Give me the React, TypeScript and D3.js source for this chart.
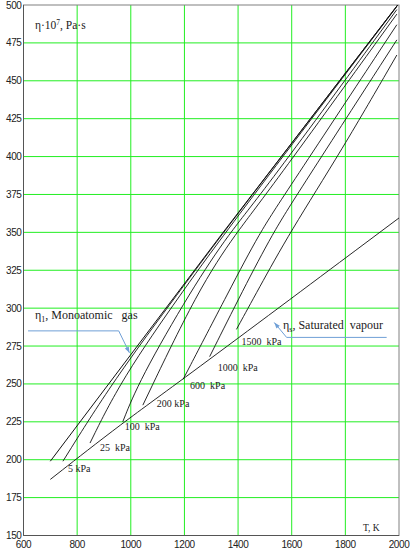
import React from "react";
import * as d3 from "d3";

// Axis ticks
const tempTicks = [600, 800, 1000, 1200, 1400, 1600, 1800, 2000];
const etaTicks = [150, 175, 200, 225, 250, 275, 300, 325, 350, 375, 400, 425, 450, 475, 500];

// Monoatomic gas viscosity (eta_1) and saturated vapour line (eta_s)
const monoT = [700, 1340, 1995];
const monoEta = [199, 349, 500];
const satT = [700, 970, 1195, 2000];
const satEta = [187, 224.5, 253, 359.5];

// Isobars, each starting near the saturation line
const pressureLabels = ["5 kPa", "25  kPa", "100  kPa", "200 kPa", "600  kPa", "1000  kPa", "1500  kPa"];
const isobarT = [
  [747, 936, 1186, 1345, 1995],
  [848, 965, 1195, 1350, 1992],
  [970, 1033, 1226, 1369, 1487, 1992],
  [1045, 1251, 1394, 1506, 1992],
  [1195, 1369, 1481, 1574, 1992],
  [1294, 1419, 1531, 1620, 1992],
  [1394, 1475, 1593, 1786, 1992],
];
const isobarEta = [
  [199, 252.5, 312, 350, 500],
  [211, 253, 311.5, 349.5, 499],
  [225, 252.8, 312.2, 350, 375, 497],
  [236, 312.2, 350, 375, 494],
  [253, 312.2, 350, 375, 487],
  [268, 312.2, 350, 375, 477],
  [286, 312.2, 350, 404, 467],
];

// Pixel offsets of the pressure labels from each isobar's first point
const labelOffsets: [number, number][] = [
  [5, 11],
  [10, 8],
  [2, 8],
  [14, 2],
  [7, 10],
  [8, 14],
  [5, 16],
];

// Leader lines of the two callouts (T, eta)
const monoLeaderT = [617, 955, 995];
const monoLeaderEta = [285, 285, 270.5];
const satLeaderT = [1954, 1581, 1535];
const satLeaderEta = [280.7, 280.7, 290.5];

const W = 410;
const H = 553;

export default function App() {
  const x = d3.scaleLinear().domain([600, 2000]).range([23.5, 399]);
  const y = d3.scaleLinear().domain([150, 500]).range([535.5, 5]);

  const smooth = d3
    .line<[number, number]>()
    .x((d) => x(d[0]))
    .y((d) => y(d[1]))
    .curve(d3.curveBasis);
  const straight = d3
    .line<[number, number]>()
    .x((d) => x(d[0]))
    .y((d) => y(d[1]));

  const zip = (a: number[], b: number[]) => a.map((v, i) => [v, b[i]] as [number, number]);

  const green = "#22ee22";
  const blue = "#6f9fd6";
  const serif = "'Liberation Serif', 'Times New Roman', serif";
  const sans = "'Liberation Sans', Arial, sans-serif";

  const arrowHead = (from: [number, number], to: [number, number]) => {
    const x0 = x(from[0]);
    const y0 = y(from[1]);
    const x1 = x(to[0]);
    const y1 = y(to[1]);
    const ang = Math.atan2(y1 - y0, x1 - x0);
    const len = 6;
    const half = 2.2;
    const bx = x1 - len * Math.cos(ang);
    const by = y1 - len * Math.sin(ang);
    const px = -Math.sin(ang) * half;
    const py = Math.cos(ang) * half;
    return `M${x1},${y1}L${bx + px},${by + py}L${bx - px},${by - py}Z`;
  };

  const monoLeader = zip(monoLeaderT, monoLeaderEta);
  const satLeader = zip(satLeaderT, satLeaderEta);

  return (
    <svg
      width={W}
      height={H}
      viewBox={`0 0 ${W} ${H}`}
      style={{ position: "absolute", left: 0, top: 0, background: "#fff" }}
    >
      <rect x={0} y={0} width={W} height={H} fill="#fff" />
      {/* grid */}
      {tempTicks.slice(1, -1).map((t) => (
        <line key={"vx" + t} x1={x(t)} x2={x(t)} y1={y(500)} y2={y(150)} stroke={green} strokeWidth={1} />
      ))}
      {etaTicks.slice(1, -1).map((e) => (
        <line key={"hy" + e} x1={x(600)} x2={x(2000)} y1={y(e)} y2={y(e)} stroke={green} strokeWidth={1} />
      ))}
      {/* frame */}
      <rect
        x={x(600)}
        y={y(500)}
        width={x(2000) - x(600)}
        height={y(150) - y(500)}
        fill="none"
        stroke="#808080"
        strokeWidth={1}
      />
      <line x1={x(600)} x2={x(600)} y1={y(500)} y2={y(150)} stroke="#555" />
      <line x1={x(600)} x2={x(2000)} y1={y(150)} y2={y(150)} stroke="#555" />

      {/* tick labels */}
      {etaTicks.map((e) => (
        <text
          key={"ty" + e}
          x={x(600) - 2}
          y={y(e) + 3.5}
          textAnchor="end"
          fontFamily={sans}
          fontSize={10}
          letterSpacing={-0.4}
          fill="#222"
        >
          {e}
        </text>
      ))}
      {tempTicks.map((t) => (
        <text
          key={"tx" + t}
          x={x(t)}
          y={y(150) + 12.5}
          textAnchor="middle"
          fontFamily={sans}
          fontSize={10}
          letterSpacing={-0.4}
          fill="#222"
        >
          {t}
        </text>
      ))}

      {/* saturated vapour line */}
      <path d={smooth(zip(satT, satEta)) || ""} fill="none" stroke="#111" strokeWidth={0.9} />
      {/* monoatomic gas line */}
      <path d={straight(zip(monoT, monoEta)) || ""} fill="none" stroke="#111" strokeWidth={1} />
      {/* isobars */}
      {isobarT.map((ts, i) => (
        <path
          key={"iso" + i}
          d={smooth(zip(ts, isobarEta[i])) || ""}
          fill="none"
          stroke="#111"
          strokeWidth={0.9}
        />
      ))}
      {pressureLabels.map((lab, i) => (
        <text
          key={"pl" + i}
          x={x(isobarT[i][0]) + labelOffsets[i][0]}
          y={y(isobarEta[i][0]) + labelOffsets[i][1]}
          fontFamily={serif}
          fontSize={10}
          fill="#222"
          style={{ whiteSpace: "pre" }}
        >
          {lab}
        </text>
      ))}

      {/* callouts */}
      <path d={straight(monoLeader) || ""} fill="none" stroke={blue} strokeWidth={1} />
      <path d={arrowHead(monoLeader[1], monoLeader[2])} fill={blue} />
      <path d={straight(satLeader) || ""} fill="none" stroke={blue} strokeWidth={1} />
      <path d={arrowHead(satLeader[1], satLeader[2])} fill={blue} />

      <text x={35} y={319} fontFamily={serif} fontSize={12} fill="#222" style={{ whiteSpace: "pre" }}>
        η<tspan fontSize={8} dy={3}>1</tspan>
        <tspan dy={-3}>, Monoatomic   gas</tspan>
      </text>
      <text x={283} y={329} fontFamily={serif} fontSize={12} fill="#222" style={{ whiteSpace: "pre" }}>
        η<tspan fontSize={8} dy={3}>s</tspan>
        <tspan dy={-3}>, Saturated  vapour</tspan>
      </text>

      {/* axis titles */}
      <text x={35} y={29} fontFamily={serif} fontSize={11.5} fill="#222">
        η·10<tspan fontSize={7.5} dy={-4}>7</tspan>
        <tspan dy={4}>, Pa·s</tspan>
      </text>
      <text x={363} y={531} fontFamily={serif} fontSize={9.5} fill="#222">
        T, K
      </text>
    </svg>
  );
}
